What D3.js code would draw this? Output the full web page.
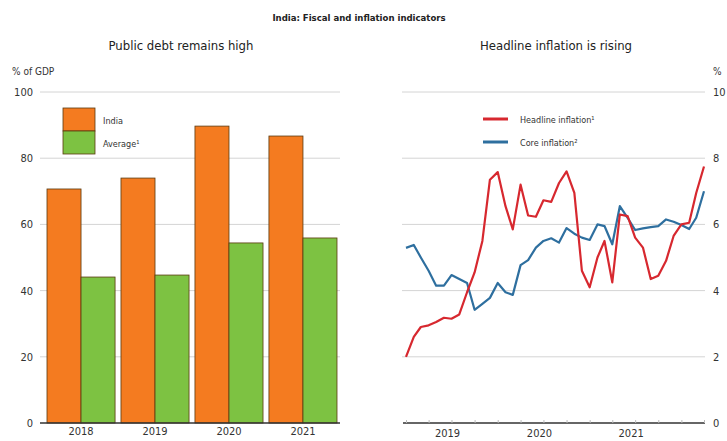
<!DOCTYPE html>
<html><head><meta charset="utf-8">
<script src="https://cdn.jsdelivr.net/npm/d3@7"></script>
<style>
body{margin:0;background:#fff;}
text{font-family:"Liberation Sans Narrow","Arial Narrow","DejaVu Sans Condensed",sans-serif;font-stretch:condensed;fill:#333;}
</style></head>
<body><svg id="c" width="727" height="441"></svg>
<script>
const years = ["2018","2019","2020","2021"];
const indiaDebt = [70.7, 74.0, 89.7, 86.7];
const avgDebt = [44.1, 44.7, 54.4, 55.9];
const debtTicks = [0,20,40,60,80,100];

const months = d3.range(40).map(i => new Date(2019, i, 1));
const headline = [2.0,2.6,2.9,2.95,3.05,3.18,3.15,3.28,3.95,4.55,5.5,7.35,7.58,6.55,5.85,7.2,6.27,6.23,6.73,6.68,7.25,7.6,6.95,4.6,4.1,5.0,5.5,4.25,6.3,6.25,5.6,5.3,4.35,4.45,4.9,5.65,6.0,6.05,6.95,7.75];
const core = [5.29,5.38,5.0,4.6,4.15,4.15,4.47,4.35,4.23,3.42,3.6,3.78,4.23,3.95,3.87,4.77,4.92,5.3,5.5,5.58,5.45,5.89,5.72,5.6,5.53,6.0,5.95,5.4,6.55,6.2,5.83,5.88,5.92,5.95,6.15,6.08,5.98,5.86,6.2,7.0];
const inflTicks = [0,2,4,6,8,10];
const yearLabels = ["2019","2020","2021"];

const svg = d3.select("#c");

svg.append("text").attr("x",359).attr("y",21).attr("text-anchor","middle")
  .style("font-size","9.5px").style("font-weight","bold").style("fill","#222").text("India: Fiscal and inflation indicators");
svg.append("text").attr("x",181).attr("y",50).attr("text-anchor","middle")
  .style("font-size","13px").style("fill","#222").text("Public debt remains high");
svg.append("text").attr("x",556).attr("y",50).attr("text-anchor","middle")
  .style("font-size","13px").style("fill","#222").text("Headline inflation is rising");

// ---- Left panel
const yL = d3.scaleLinear().domain([0,100]).range([423,92]);
const x0 = d3.scaleBand().domain(years).range([47,337]).paddingInner(0.08).paddingOuter(0);
const x1 = d3.scaleBand().domain(["india","avg"]).range([0,x0.bandwidth()]);

const gL = svg.append("g");
gL.selectAll("line.grid").data(debtTicks.filter(d=>d>0)).join("line")
  .attr("x1",40).attr("x2",340).attr("y1",d=>yL(d)).attr("y2",d=>yL(d))
  .attr("stroke","#d4d4d4").attr("stroke-width",1);
gL.selectAll("text.yt").data(debtTicks).join("text")
  .attr("x",33).attr("y",d=>yL(d)+4).attr("text-anchor","end")
  .style("font-size","11px").text(d=>d);
svg.append("text").attr("x",12).attr("y",75).style("font-size","10px").text("% of GDP");

const barData = [];
years.forEach((y,i)=>{
  barData.push({year:y,key:"india",v:indiaDebt[i]});
  barData.push({year:y,key:"avg",v:avgDebt[i]});
});
const colors = {india:"#f47b20", avg:"#7dc242"};
gL.selectAll("rect.bar").data(barData).join("rect")
  .attr("x",d=>x0(d.year)+x1(d.key)).attr("width",x1.bandwidth())
  .attr("y",d=>yL(d.v)).attr("height",d=>yL(0)-yL(d.v))
  .attr("fill",d=>colors[d.key]).attr("stroke","#5a3a10").attr("stroke-width",0.8);

const axL = gL.append("g").attr("transform","translate(0,423)")
  .call(d3.axisBottom(x0).tickSize(0).tickPadding(4));
axL.select(".domain").attr("d","M40,0H340").attr("stroke","#333").attr("stroke-width",1.5);
axL.selectAll("text").style("font-size","11px").attr("fill","#333");

// legend left
const legL = [{k:"india",t:"India"},{k:"avg",t:"Average\u00b9"}];
legL.forEach((d,i)=>{
  svg.append("rect").attr("x",63).attr("y",108+i*23).attr("width",32).attr("height",23)
    .attr("fill",colors[d.k]).attr("stroke","#5a3a10").attr("stroke-width",0.8);
  svg.append("text").attr("x",103).attr("y",124+i*23).style("font-size","9px").text(d.t);
});

// ---- Right panel
const yR = d3.scaleLinear().domain([0,10]).range([423,92]);
const xT = d3.scaleTime().domain([months[0],months[39]]).range([406,704]);
const gR = svg.append("g");
gR.selectAll("line.grid").data(inflTicks.filter(d=>d>0)).join("line")
  .attr("x1",402).attr("x2",705).attr("y1",d=>yR(d)).attr("y2",d=>yR(d))
  .attr("stroke","#d4d4d4").attr("stroke-width",1);
gR.selectAll("text.yt").data(inflTicks).join("text")
  .attr("x",713).attr("y",d=>yR(d)+4).style("font-size","11px").text(d=>d);
svg.append("text").attr("x",713).attr("y",75).style("font-size","10px").text("%");

const axR = gR.append("g").attr("transform","translate(0,423)")
  .call(d3.axisBottom(xT).tickValues(d3.timeMonth.every(3).range(new Date(2019,0,1), new Date(2022,4,1)))
    .tickSize(-3).tickFormat(""));
axR.select(".domain").attr("d","M403,0H705").attr("stroke","#333").attr("stroke-width",1.5);
axR.selectAll(".tick line").attr("stroke","#bbb");
gR.selectAll("text.xl").data(yearLabels).join("text")
  .attr("x",d=>xT(new Date(+d,6,1))-4).attr("y",437).attr("text-anchor","middle")
  .style("font-size","11px").text(d=>d);

const line = d3.line().x((d,i)=>xT(months[i])).y(d=>yR(d));
gR.append("path").datum(core).attr("d",line).attr("fill","none")
  .attr("stroke","#2e6f9f").attr("stroke-width",2.2).attr("stroke-linejoin","round");
gR.append("path").datum(headline).attr("d",line).attr("fill","none")
  .attr("stroke","#d7282f").attr("stroke-width",2.2).attr("stroke-linejoin","round");

const legR = [{c:"#d7282f",t:"Headline inflation\u00b9"},{c:"#2e6f9f",t:"Core inflation\u00b2"}];
legR.forEach((d,i)=>{
  svg.append("line").attr("x1",483).attr("x2",508).attr("y1",119+i*23).attr("y2",119+i*23)
    .attr("stroke",d.c).attr("stroke-width",3);
  svg.append("text").attr("x",520).attr("y",123+i*23).style("font-size","9px").text(d.t);
});
</script></body></html>
